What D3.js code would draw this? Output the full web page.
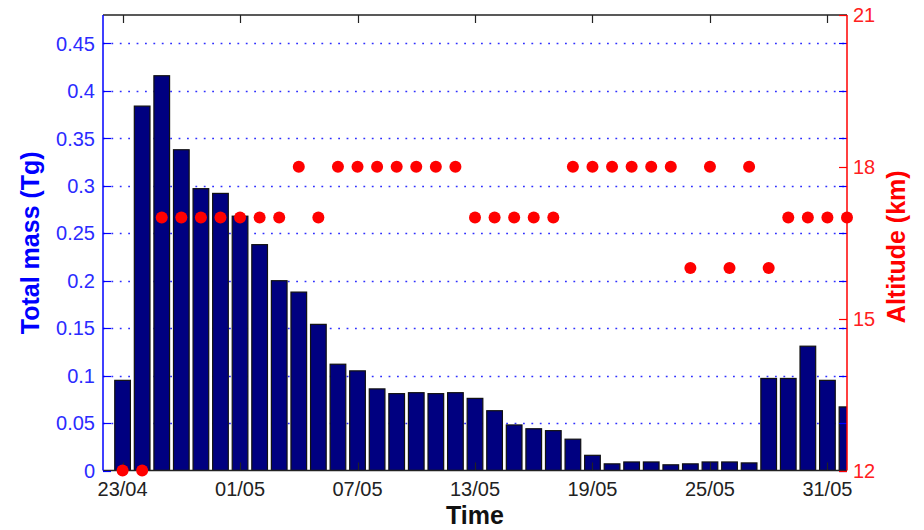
<!DOCTYPE html>
<html>
<head>
<meta charset="utf-8">
<script src="https://cdn.jsdelivr.net/npm/d3@7"></script>
<style>
  html, body { margin: 0; padding: 0; background: #fff; }
  svg { display: block; font-family: "Liberation Sans", Arial, Helvetica, sans-serif; }
</style>
</head>
<body>
<svg id="chart" width="924" height="530"></svg>
<script>
// ---- data ----
const dayIndex = d3.range(38); // one bar per day, 23/04 onwards
const totalMass = [0.095, 0.384, 0.416, 0.338, 0.297, 0.292, 0.268, 0.238, 0.200, 0.188,
                   0.154, 0.112, 0.105, 0.086, 0.081, 0.082, 0.081, 0.082, 0.076, 0.063,
                   0.048, 0.044, 0.042, 0.033, 0.016, 0.007, 0.009, 0.009, 0.006, 0.007,
                   0.009, 0.009, 0.008, 0.097, 0.097, 0.131, 0.095, 0.067];
const altitude = [12, 12, 17, 17, 17, 17, 17, 17, 17, 18,
                  17, 18, 18, 18, 18, 18, 18, 18, 17, 17,
                  17, 17, 17, 18, 18, 18, 18, 18, 18, 16,
                  18, 16, 18, 16, 17, 17, 17, 17];
const xTickIndex = [0, 6, 12, 18, 24, 30, 36];
const xTickLabels = ["23/04", "01/05", "07/05", "13/05", "19/05", "25/05", "31/05"];
const massTicks = [0, 0.05, 0.1, 0.15, 0.2, 0.25, 0.3, 0.35, 0.4, 0.45];
const altTicks = [12, 15, 18, 21];

// ---- layout ----
const L = 103, R = 847, T = 15, B = 470.5;
const svg = d3.select("#chart");

const x = d3.scaleLinear().domain([-1, 37]).range([L, R]);
const yMass = d3.scaleLinear().domain([0, 0.48]).range([B, T]);
const yAlt = d3.scaleLinear().domain([12, 21]).range([B, T]);
const barW = (x(1) - x(0)) * 0.8;

svg.append("defs").append("clipPath").attr("id", "plotclip")
  .append("rect").attr("x", L).attr("y", T).attr("width", R - L).attr("height", B - T);

// gridlines
svg.append("g").selectAll("line").data(massTicks.filter(d => d > 0)).join("line")
  .attr("x1", L).attr("x2", R)
  .attr("y1", d => Math.round(yMass(d)) + 0.5).attr("y2", d => Math.round(yMass(d)) + 0.5)
  .attr("stroke", "#2f2fff").attr("stroke-width", 1.4)
  .attr("stroke-dasharray", "1.8,6.6");

// bars
svg.append("g").attr("clip-path", "url(#plotclip)")
  .selectAll("rect").data(dayIndex).join("rect")
  .attr("x", i => x(i) - barW / 2)
  .attr("width", barW)
  .attr("y", i => yMass(totalMass[i]))
  .attr("height", i => B - yMass(totalMass[i]))
  .attr("fill", "#000080")
  .attr("stroke", "#111")
  .attr("stroke-width", 1.2);

// box: top and bottom (black) with x ticks
const ax = svg.append("g");
ax.append("line").attr("x1", L).attr("x2", R).attr("y1", T).attr("y2", T)
  .attr("stroke", "#222").attr("stroke-width", 1.5);
ax.append("line").attr("x1", L).attr("x2", R).attr("y1", B).attr("y2", B)
  .attr("stroke", "#222").attr("stroke-width", 1.5);
ax.selectAll(".tt").data(xTickIndex).join("line")
  .attr("x1", d => Math.round(x(d)) + 0.5).attr("x2", d => Math.round(x(d)) + 0.5)
  .attr("y1", T).attr("y2", T + 8).attr("stroke", "#222").attr("stroke-width", 1.2);
ax.selectAll(".bt").data(xTickIndex).join("line")
  .attr("x1", d => Math.round(x(d)) + 0.5).attr("x2", d => Math.round(x(d)) + 0.5)
  .attr("y1", B).attr("y2", B - 8).attr("stroke", "#222").attr("stroke-width", 1.2);
ax.selectAll("text").data(xTickIndex).join("text")
  .attr("x", d => x(d)).attr("y", 496)
  .attr("text-anchor", "middle")
  .attr("font-size", 20).attr("fill", "#222")
  .text((d, i) => xTickLabels[i]);

// left axis (blue)
const la = svg.append("g");
la.append("line").attr("x1", L).attr("x2", L).attr("y1", T).attr("y2", B)
  .attr("stroke", "#0000ff").attr("stroke-width", 1.5);
la.selectAll(".lt").data(massTicks).join("line")
  .attr("x1", L).attr("x2", L + 8)
  .attr("y1", d => Math.round(yMass(d)) + 0.5).attr("y2", d => Math.round(yMass(d)) + 0.5)
  .attr("stroke", "#0000ff").attr("stroke-width", 1.2);
la.selectAll(".rt").data(massTicks).join("line")
  .attr("x1", R - 8).attr("x2", R)
  .attr("y1", d => Math.round(yMass(d)) + 0.5).attr("y2", d => Math.round(yMass(d)) + 0.5)
  .attr("stroke", "#0000ff").attr("stroke-width", 1.2);
la.selectAll("text").data(massTicks).join("text")
  .attr("x", 95).attr("y", d => yMass(d)).attr("dy", "0.36em")
  .attr("text-anchor", "end").attr("font-size", 20).attr("fill", "#2b2bff")
  .text(d => d3.format("")(+d.toFixed(2)));

// right axis (red)
const ra = svg.append("g");
ra.append("line").attr("x1", R).attr("x2", R).attr("y1", T).attr("y2", B)
  .attr("stroke", "#ff0000").attr("stroke-width", 1.5);
ra.selectAll("line.t").data(altTicks).join("line").attr("class", "t")
  .attr("x1", R - 8).attr("x2", R)
  .attr("y1", d => Math.round(yAlt(d)) + 0.5).attr("y2", d => Math.round(yAlt(d)) + 0.5)
  .attr("stroke", "#ff0000").attr("stroke-width", 1.2);
ra.selectAll("text").data(altTicks).join("text")
  .attr("x", 853).attr("y", d => yAlt(d)).attr("dy", "0.36em")
  .attr("font-size", 20).attr("fill", "#ff2020")
  .text(d => d);

// altitude points
svg.append("g").selectAll("circle").data(dayIndex).join("circle")
  .attr("cx", i => x(i)).attr("cy", i => yAlt(altitude[i]))
  .attr("r", 6).attr("fill", "#ff0000");

// axis titles
svg.append("text").attr("x", (L + R) / 2).attr("y", 524)
  .attr("text-anchor", "middle").attr("font-size", 25).attr("font-weight", "bold")
  .attr("fill", "#111").text("Time");
svg.append("text").attr("transform", `translate(39,${(T + B) / 2}) rotate(-90)`)
  .attr("text-anchor", "middle").attr("font-size", 25).attr("font-weight", "bold")
  .attr("fill", "#0000ff").text("Total mass (Tg)");
svg.append("text").attr("transform", `translate(905,${(T + B) / 2 + 4}) rotate(-90)`)
  .attr("text-anchor", "middle").attr("font-size", 25).attr("font-weight", "bold")
  .attr("fill", "#ff0000").text("Altitude (km)");
</script>
</body>
</html>
